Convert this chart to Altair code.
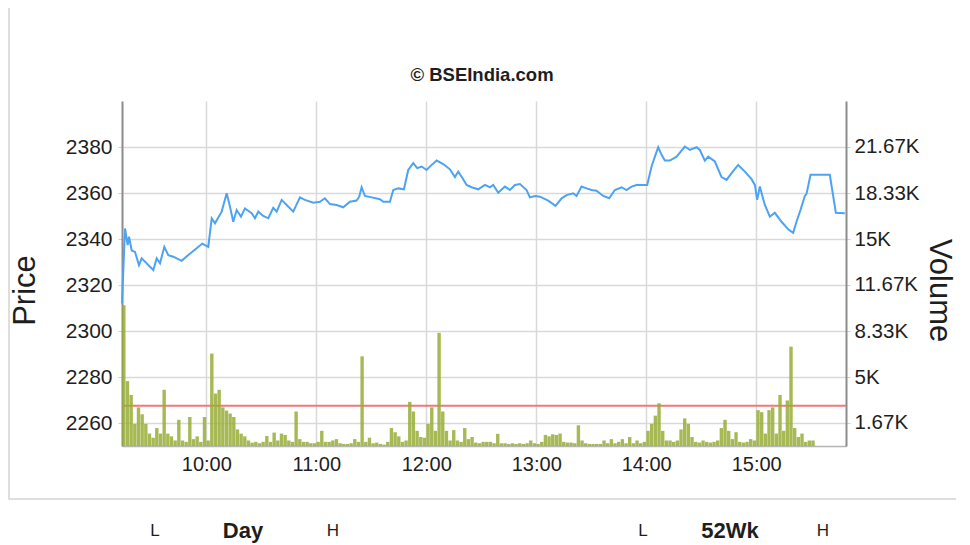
import altair as alt
import pandas as pd

# ---------------- data ----------------
DAY = "2024-01-01"

price_times = [
    "09:14:00", "09:15:38", "09:17:06", "09:17:50", "09:19:17", "09:21:05", "09:23:16", "09:24:45", "09:27:28", "09:31:05",
    "09:32:56", "09:34:44", "09:37:05", "09:39:15", "09:42:00", "09:46:34", "09:50:10", "09:54:45", "09:57:48", "10:01:04",
    "10:02:56", "10:04:44", "10:08:23", "10:11:07", "10:12:55", "10:14:43", "10:16:34", "10:18:55", "10:21:05", "10:24:44",
    "10:26:33", "10:28:21", "10:31:04", "10:33:48", "10:36:31", "10:38:23", "10:41:06", "10:43:50", "10:47:26", "10:51:05",
    "10:53:49", "10:58:21", "11:02:00", "11:04:43", "11:07:27", "11:11:06", "11:14:42", "11:18:22", "11:22:01", "11:23:25",
    "11:24:44", "11:26:33", "11:30:12", "11:34:44", "11:36:32", "11:40:10", "11:42:00", "11:44:44", "11:47:49", "11:50:10",
    "11:52:54", "11:55:05", "11:57:29", "12:00:12", "12:02:23", "12:05:40", "12:09:16", "12:12:55", "12:15:38", "12:17:26",
    "12:20:10", "12:22:00", "12:24:44", "12:28:20", "12:32:00", "12:34:44", "12:36:33", "12:39:16", "12:42:55", "12:45:38",
    "12:48:22", "12:51:05", "12:54:44", "12:56:33", "12:59:16", "13:02:00", "13:06:32", "13:10:33", "13:13:50", "13:16:34",
    "13:20:10", "13:22:00", "13:24:44", "13:27:28", "13:30:10", "13:32:55", "13:36:32", "13:39:48", "13:42:55", "13:46:33",
    "13:49:16", "13:52:00", "13:54:44", "14:00:32", "14:02:55", "14:04:44", "14:06:32", "14:08:22", "14:10:10", "14:12:55",
    "14:16:34", "14:21:05", "14:23:50", "14:27:28", "14:29:16", "14:32:00", "14:33:50", "14:37:28", "14:41:06", "14:43:50",
    "14:46:34", "14:50:10", "14:53:50", "14:57:28", "14:59:16", "15:00:32", "15:02:00", "15:03:28", "15:04:44", "15:07:28",
    "15:10:10", "15:13:50", "15:17:28", "15:20:10", "15:22:00", "15:24:10", "15:26:33", "15:27:28", "15:29:38", "15:40:10",
    "15:43:28", "15:48:22",
]
prices = [
    2312.0, 2344.6, 2337.4, 2341.0, 2335.0, 2334.4, 2328.6, 2331.6, 2329.4, 2326.5,
    2331.6, 2329.4, 2336.6, 2333.0, 2332.3, 2330.5, 2333.0, 2336.0, 2338.0, 2336.6,
    2349.0, 2346.8, 2351.9, 2359.9, 2354.0, 2347.5, 2352.6, 2349.7, 2353.3, 2351.2,
    2349.0, 2351.9, 2350.0, 2349.0, 2353.6, 2351.9, 2357.0, 2354.8, 2351.9, 2358.1,
    2357.0, 2355.8, 2356.2, 2357.7, 2355.2, 2354.8, 2353.8, 2356.2, 2356.7, 2358.4,
    2362.5, 2358.7, 2358.1, 2357.3, 2356.2, 2356.2, 2361.3, 2362.0, 2361.6, 2370.0,
    2373.0, 2370.8, 2371.5, 2370.0, 2371.8, 2374.1, 2372.6, 2370.3, 2366.9, 2369.3,
    2366.0, 2363.5, 2362.5, 2361.6, 2363.5, 2362.5, 2363.5, 2360.1, 2362.8, 2361.3,
    2363.5, 2363.9, 2361.3, 2358.1, 2358.7, 2358.4, 2356.7, 2354.4, 2357.7, 2359.1,
    2359.9, 2358.7, 2362.8, 2362.0, 2361.3, 2361.0, 2358.7, 2357.7, 2361.3, 2362.5,
    2361.3, 2362.8, 2363.5, 2363.5, 2371.5, 2375.8, 2379.9, 2376.6, 2374.1, 2374.1,
    2375.8, 2380.2, 2378.7, 2379.9, 2378.7, 2374.1, 2375.8, 2373.7, 2366.9, 2365.7,
    2368.6, 2372.2, 2369.3, 2366.0, 2363.5, 2357.0, 2362.8, 2358.4, 2354.8, 2349.7,
    2351.4, 2347.5, 2344.2, 2342.7, 2347.5, 2352.6, 2358.7, 2359.6, 2367.9, 2367.9,
    2351.4, 2351.2,
]

# traded volume, one bar every 2 minutes starting 09:15
volume_start = "09:15"
volume_step = "2min"
volumes = [
    10200, 4700, 3700, 1600, 2800, 2300, 1600, 900, 600, 1300,
    900, 4070, 900, 700, 400, 1900, 400, 300, 2100, 500,
    700, 300, 2100, 400, 6700, 3800, 4070, 2800, 2570, 2350,
    2100, 1200, 900, 700, 400, 240, 300, 200, 300, 720,
    300, 970, 400, 900, 800, 400, 300, 2500, 500, 300,
    300, 200, 200, 300, 1100, 300, 300, 400, 500, 200,
    150, 150, 200, 500, 300, 6500, 300, 600, 200, 250,
    150, 100, 300, 1300, 1000, 700, 300, 400, 3200, 2500,
    1100, 650, 600, 1600, 2800, 1100, 8200, 2500, 1100, 400,
    1150, 400, 300, 1300, 500, 650, 250, 200, 300, 300,
    300, 200, 880, 200, 200, 150, 200, 150, 200, 150,
    200, 400, 200, 150, 300, 800, 700, 850, 800, 900,
    300, 250, 250, 200, 1500, 400, 200, 150, 150, 150,
    150, 400, 200, 500, 200, 300, 500, 200, 650, 200,
    400, 200, 300, 1100, 1600, 2200, 3100, 1100, 400, 400,
    300, 400, 1200, 2000, 1600, 650, 300, 250, 400, 300,
    250, 300, 400, 1300, 1900, 1100, 500, 1000, 300, 250,
    300, 500, 400, 2600, 2450, 900, 2600, 2800, 900, 3700,
    1100, 3300, 7200, 1300, 650, 900, 300, 400, 400,
]

reference_price = 2267.5

hour_ticks = ["10:00", "11:00", "12:00", "13:00", "14:00", "15:00"]
price_ticks = [2260, 2280, 2300, 2320, 2340, 2360, 2380]
volume_ticks = [1666.67, 5000, 8333.33, 11666.67, 15000, 18333.33, 21666.67]
price_domain = [2250, 2400]
volume_domain = [0, 25000]
time_domain = ["09:14", "15:49"]

title_text = "© BSEIndia.com"
bottom_labels = ["L", "Day", "H", "L", "52Wk", "H"]

# ---------------- tables ----------------
price_df = pd.DataFrame({"time": [f"{DAY}T{t}" for t in price_times], "price": prices})
vol_times = pd.date_range(f"{DAY} {volume_start}", periods=len(volumes), freq=volume_step)
vol_df = pd.DataFrame({"time": vol_times.strftime("%Y-%m-%dT%H:%M:%S"), "volume": volumes})


def dt(hhmm):
    h, m = hhmm.split(":")
    return alt.DateTime(year=2024, month=1, date=1, hours=int(h), minutes=int(m))


FONT = "Liberation Sans"
GRID = "#d9d9d9"
TXT = "#1e1e1e"

x_enc = alt.X(
    "time:T",
    scale=alt.Scale(domain=[dt(t) for t in time_domain], nice=False, padding=0),
    axis=alt.Axis(
        values=[dt(t) for t in hour_ticks], format="%H:%M", title=None,
        grid=True, gridColor=GRID, gridWidth=1.5,
        domainColor="#b5b5b5", domainWidth=1.5, tickSize=0,
        labelFontSize=20, labelPadding=8, labelColor=TXT, labelFont=FONT,
    ),
)

rule = alt.Chart(pd.DataFrame({"level": [reference_price]})).mark_rule(
    color="#f07878", strokeWidth=2.2
).encode(
    y=alt.Y("level:Q", scale=alt.Scale(domain=price_domain), axis=None),
)

bars = alt.Chart(vol_df).mark_bar(width=3.4, color="#98ad36", opacity=0.85).encode(
    x=x_enc,
    y=alt.Y(
        "volume:Q",
        scale=alt.Scale(domain=volume_domain),
        axis=alt.Axis(
            orient="right", values=volume_ticks,
            labelExpr="format(datum.value / 1000, '.2~f') + 'K'",
            title="Volume", titleAngle=90, titleX=92, titleY=189,
            titleAlign="center", titleBaseline="middle",
            titleFontSize=31, titleFontWeight="normal", titleColor=TXT, titleFont=FONT,
            grid=False, domainColor="#8c8c8c", domainWidth=2,
            tickSize=4, tickColor="#cfcfcf", labelPadding=4,
            labelFontSize=20.5, labelColor=TXT, labelFont=FONT,
        ),
    ),
)

line = alt.Chart(price_df).mark_line(color="#4da3f2", strokeWidth=2).encode(
    x=x_enc,
    y=alt.Y(
        "price:Q",
        scale=alt.Scale(domain=price_domain),
        axis=alt.Axis(
            orient="left", values=price_ticks, format="d",
            title="Price", titleAngle=270, titleX=-97, titleY=189,
            titleAlign="center", titleBaseline="middle",
            titleFontSize=31, titleFontWeight="normal", titleColor=TXT, titleFont=FONT,
            grid=True, gridColor=GRID, gridWidth=1.5,
            domainColor="#8c8c8c", domainWidth=2,
            tickSize=4, tickColor="#cfcfcf", labelPadding=6,
            labelFontSize=21, labelColor=TXT, labelFont=FONT,
        ),
    ),
)

one = pd.DataFrame({"k": [0]})

frame = alt.Chart(one).mark_rect(
    fillOpacity=0, stroke="#d4d4d4", strokeWidth=1.5
).encode(
    x=alt.value(-113), x2=alt.value(900), y=alt.value(-200), y2=alt.value(398)
)


def label(text, x, y, size, weight):
    return alt.Chart(pd.DataFrame({"t": [text]})).mark_text(
        font=FONT, fontSize=size, fontWeight=weight, color=TXT,
        align="center", baseline="middle",
    ).encode(x=alt.value(x), y=alt.value(y), text="t:N")


title = label(title_text, 360, -26, 18.5, "bold")
bottom_x = [33, 121, 211, 521, 608, 701]
bottom_size = [17, 22, 17, 17, 22, 17]
bottom_weight = ["normal", "bold", "normal", "normal", "bold", "normal"]
bottoms = [label(t, x, 430, s, w) for t, x, s, w in zip(bottom_labels, bottom_x, bottom_size, bottom_weight)]

chart = alt.layer(
    frame, rule, bars, line, title, *bottoms
).resolve_scale(
    y="independent"
).properties(
    width=724, height=345,
    padding={"left": 114, "top": 93, "right": 110, "bottom": 97},
    autosize=alt.AutoSizeParams(type="none"),
).configure_view(strokeWidth=0)

chart.save("out.html", embed_options={"renderer": "svg", "actions": False})
